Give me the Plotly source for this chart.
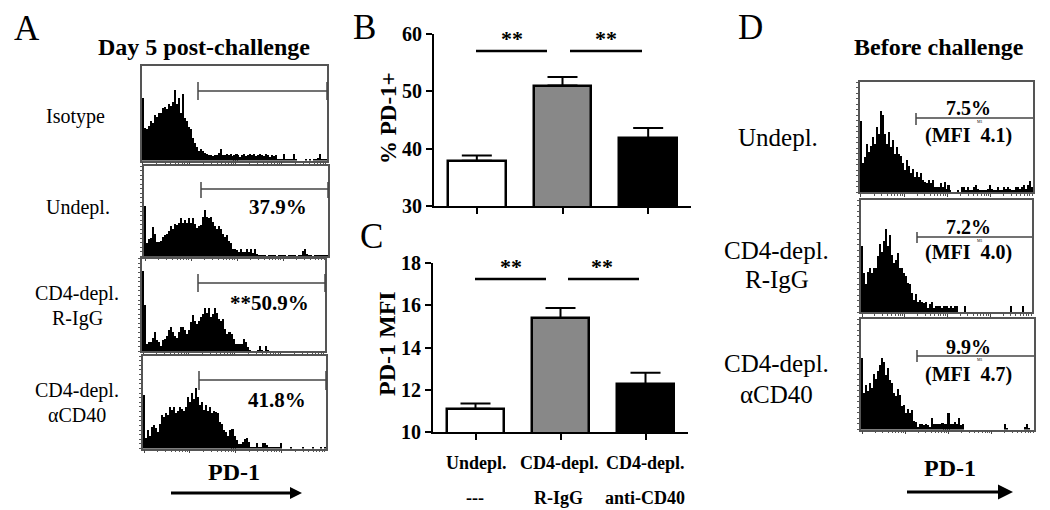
import math
import plotly.graph_objects as go

W, H = 1050, 510
SERIF = "Liberation Serif"

# ---------- data ----------
groups = ["Undepl.", "CD4-depl.", "CD4-depl."]
groups2 = ["---", "R-IgG", "anti-CD40"]
pct_values = [37.9, 51.0, 41.8]
pct_errors = [0.9, 1.5, 1.8]
mfi_values = [11.1, 15.4, 12.25]
mfi_errors = [0.25, 0.47, 0.55]
bar_colors = ["#ffffff", "#888888", "#000000"]

hist_isotype = [66,34,33,36,42,40,48,46,50,50,56,57,55,60,58,62,75,60,66,50,70,45,42,35,33,24,18,14,10,12,10,8,7,6,6,5,6,6,8,12,6,6,7,
    6,7,5,6,7,6,4,6,7,5,6,7,6,7,5,6,7,6,5,7,6,4,6,5,6,2,
    2,2,7,2,1,1,2,7,1,0,0,0,0,1,0,1,0,1,1,3,7,2,1,1]
hist_undepl = [56,14,19,20,32,25,16,16,17,21,23,25,28,33,30,36,35,37,42,37,40,37,42,37,42,36,31,33,35,43,51,43,42,43,38,33,30,33,30,25,21,23,17,14,8,8,7,5,8,5,4,8,4,8,3,8,2,
    1,1,1,1,0,1,1,1,1,0,1,1,1,1,0,1,1,1,1,0,1,1,6,8,2,1,1,0,1,1,1,1,1,1,1]
hist_rigg = [87,50,8,10,10,15,21,12,10,6,12,14,17,23,26,21,17,15,21,26,27,23,19,23,32,39,33,30,33,37,41,47,42,47,37,41,47,42,35,33,35,24,19,21,19,14,8,8,8,8,13,10,5,1,0,0,0,1,6,1,0,6,1,
    0,0,0,0,0,0,0,0,0,0,0,0,0,0,0,0,0,0,0,0,0,0,0,0,0,0,0,0]
hist_cd40 = [58,11,20,14,23,25,22,18,27,36,34,38,36,45,42,45,38,41,45,43,41,45,56,50,60,54,65,56,47,50,42,47,41,45,38,41,40,38,29,27,20,18,14,20,21,14,9,5,5,7,10,11,7,2,1,2,6,1,2,6,6,4,1,1,1,1,1,2,6,
    0,0,0,0,1,0,0,0,0,0,1,0,0,0,0,1,0,0,0,1,0,1]
hist_d_undepl = [65,26,32,44,36,42,50,44,59,53,74,70,53,44,55,41,47,35,41,35,33,26,20,29,24,17,21,14,18,14,17,11,9,8,11,8,11,5,5,5,8,5,9,3,6,2,
    0,0,0,1,0,5,5,2,5,1,1,5,6,3,1,1,1,1,3,6,3,1,1,5,1,1,5,3,5,3,1,1,5,5,3,5,6,3,6,10,5]
hist_d_rigg = [59,35,25,36,39,35,39,39,50,61,54,63,74,59,69,51,44,46,53,39,39,35,32,26,25,17,11,16,9,11,9,8,9,4,7,9,4,5,5,5,4,5,5,4,5,4,5,5,0,
    0,0,5,0,0,0,0,0,0,0,0,0,0,0,0,0,0,0,0,0,0,0,0,0,0,5,0,0,0,0,0,5,0,0,0,0]
hist_d_cd40 = [65,33,40,35,42,38,50,46,53,58,65,61,49,56,45,42,33,30,37,31,21,22,15,19,15,18,8,7,2,5,5,4,5,4,2,10,5,5,5,5,6,5,5,15,5,5,7,5,10,4,5,
    0,0,0,0,0,0,0,0,0,0,0,0,0,0,0,0,0,0,0,0,5,1,0,0,0,0,0,0,0,0,2,5,1,0,0]

histograms = [hist_isotype, hist_undepl, hist_rigg, hist_cd40, hist_d_undepl, hist_d_rigg, hist_d_cd40]

# ---------- layout helpers (pixel geometry of the page) ----------
def fx(px):
    return px / W
def fy(py):
    return 1 - py / H

frames = [(142, 327, 66, 160.5), (144, 328, 166, 256), (142, 325, 258.5, 351), (143, 326, 356, 448.5),
          (860, 1033, 82, 192), (861, 1032, 200, 312), (861, 1034, 319, 429.5)]
left_ticks = [False, True, True, True, True, True, True]

def hist_axis_ticks(n):
    major = [d / 4 * n for d in range(5)]
    minor = [(d + math.log10(m)) / 4 * n for d in range(4) for m in range(2, 10)]
    return major, minor

fig = go.Figure()
layout = dict(width=W, height=H, margin=dict(l=0, r=0, t=0, b=0, autoexpand=False), paper_bgcolor="white",
              plot_bgcolor="white", showlegend=False, bargap=0, font=dict(family=SERIF, color="black"))

for i, (vals, fr) in enumerate(zip(histograms, frames)):
    k = i + 1
    fig.add_trace(go.Bar(x=list(range(len(vals))), y=vals, width=1.02, marker=dict(color="black", line=dict(width=0)),
                         xaxis=f"x{k}", yaxis=f"y{k}"))
    major, minor = hist_axis_ticks(len(vals))
    x0, x1, y0, y1 = fr
    layout[f"xaxis{k}"] = dict(domain=[fx(x0), fx(x1)], range=[-0.5, len(vals) - 0.5], anchor=f"y{k}",
                               showgrid=False, zeroline=False, showline=True, mirror=True, linecolor="#555555", linewidth=1.5,
                               tickmode="array", tickvals=major, ticktext=[""] * 5, ticks="outside", ticklen=3, tickwidth=1,
                               tickcolor="#444444",
                               minor=dict(tickmode="array", tickvals=minor, ticks="outside", ticklen=2, tickwidth=1, tickcolor="#555555"))
    ysp = dict(tickmode="array", tickvals=[0, 25, 50, 75, 100], ticktext=[""] * 5, ticks="outside", ticklen=4, tickwidth=1,
               tickcolor="#444444",
               minor=dict(tickmode="array", tickvals=list(range(0, 101, 5)), ticks="outside", ticklen=2, tickwidth=1, tickcolor="#555555")) \
        if left_ticks[i] else dict(showticklabels=False, ticks="")
    layout[f"yaxis{k}"] = dict(domain=[fy(y1), fy(y0)], range=[0, 100], anchor=f"x{k}", showgrid=False, zeroline=False,
                               showline=True, mirror=True, linecolor="#555555", linewidth=1.5, **ysp)

# bar panels
bar_panels = [(8, pct_values, pct_errors, (434, 691), (34, 206), [30, 40, 50, 60], [30, 60]),
              (9, mfi_values, mfi_errors, (433, 688), (263, 432), [10, 12, 14, 16, 18], [10, 18])]
for k, vals, errs, (xa, xb), (yt, yb), yticks, yr in bar_panels:
    fig.add_trace(go.Bar(x=[0, 1, 2], y=vals, width=0.67,
                         marker=dict(color=bar_colors, line=dict(color="black", width=2.5)),
                         error_y=dict(type="data", array=errs, symmetric=False, color="black", thickness=2, width=15),
                         xaxis=f"x{k}", yaxis=f"y{k}"))
    layout[f"xaxis{k}"] = dict(domain=[fx(xa), fx(xb)], range=[-0.5, 2.5], anchor=f"y{k}", showgrid=False, zeroline=False,
                               showline=True, linecolor="black", linewidth=2, tickmode="array", tickvals=[0, 1, 2],
                               ticktext=["", "", ""], ticks="outside", ticklen=6, tickwidth=2, tickcolor="black")
    layout[f"yaxis{k}"] = dict(domain=[fy(yb), fy(yt)], range=yr, anchor=f"x{k}", showgrid=False, zeroline=False,
                               showline=True, linecolor="black", linewidth=2, tickmode="array", tickvals=yticks, ticks="outside",
                               ticklen=6, tickwidth=2, tickcolor="black",
                               tickfont=dict(family=SERIF, size=20, color="black", weight="bold"))

fig.update_layout(**layout)

# ---------- text ----------
def label(text, x, y, size, bold=False, angle=0, color="black"):
    fig.add_annotation(text=text, xref="paper", yref="paper", x=fx(x), y=fy(y), xanchor="center", yanchor="middle",
                       showarrow=False, textangle=angle,
                       font=dict(family=SERIF, size=size, color=color, weight="bold" if bold else "normal"))

for t, x, y in [("A", 27, 28), ("B", 364, 27), ("C", 371, 236), ("D", 750, 27)]:
    label(t, x, y, 35)

label("Day 5 post-challenge", 204, 47, 24, True)
label("Before challenge", 939, 47, 24, True)

for t, x, y in [("Isotype", 75, 117), ("Undepl.", 78, 207), ("CD4-depl.", 77, 293), ("R-IgG", 77, 318),
                ("CD4-depl.", 77, 390), ("αCD40", 77, 415)]:
    label(t, x, y, 20)
for t, x, y in [("Undepl.", 778, 138), ("CD4-depl.", 776, 250), ("R-IgG", 777, 279), ("CD4-depl.", 776, 363), ("αCD40", 776, 394)]:
    label(t, x, y, 25)

for t, x, y in [("37.9%", 278, 207), ("**50.9%", 269, 303), ("41.8%", 277, 400)]:
    label(t, x, y, 21, True)
for t, t2, y, y2, ym in [("7.5%", "(MFI  4.1)", 108, 136, 121), ("7.2%", "(MFI  4.0)", 227, 252, 240), ("9.9%", "(MFI  4.7)", 347, 374, 359)]:
    label(t, 968, y, 20, True)
    label(t2, 968, y2, 20, True)
    label("M1", 980, ym, 4)

label("PD-1", 234, 472, 24, True)
label("PD-1", 950, 468, 24, True)
label("% PD-1+", 388, 118, 23, True, angle=-90)
label("PD-1 MFI", 387, 344, 24, True, angle=-90)

for t, x in [("**", 512), ("**", 606)]:
    label(t, x, 39, 22, True)
for t, x in [("**", 511), ("**", 602)]:
    label(t, x, 266, 22, True)

for g, g2, x, x2 in zip(groups, groups2, [476, 559, 645], [475, 558, 645]):
    label(g, x, 463, 18, True)
    label(g2, x2, 498, 18, True)

# ---------- lines, gates and arrows ----------
def line(x0, y0, x1, y1, color="black", width=1.5):
    fig.add_shape(type="line", xref="paper", yref="paper", x0=fx(x0), y0=fy(y0), x1=fx(x1), y1=fy(y1),
                  line=dict(color=color, width=width))

gates = [(198, 327, 91, 82, 100), (201, 328, 189, 182, 198), (198, 325, 283, 274, 292), (199, 326, 380, 371, 390),
         (916, 1033, 118, 113, 125), (917, 1032, 237, 232, 243), (917, 1034, 356, 350, 362)]
for i, (a, b, y, t0, t1) in enumerate(gates):
    line(a, y, b, y, "#444444", 1.5)
    line(a, t0, a, t1, "#444444", 1.5)
    if i < 4:
        line(b, t0, b, t1, "#444444", 1.5)

for a, b, y in [(476, 547, 51), (570, 642, 51), (475, 546, 279), (568, 639, 279)]:
    line(a, y, b, y, "black", 2.5)

for a, b, y, hl, hh in [(171, 302, 493, 12, 6), (907, 1013, 492, 15, 7.5)]:
    line(a, y, b - hl, y, "black", 3)
    fig.add_shape(type="path", xref="paper", yref="paper", fillcolor="black", line=dict(width=0),
                  path=f"M {fx(b - hl)} {fy(y - hh)} L {fx(b)} {fy(y)} L {fx(b - hl)} {fy(y + hh)} Z")

fig.write_html("out.html", post_script="document.body.style.margin='0';", config=dict(displayModeBar=False))
